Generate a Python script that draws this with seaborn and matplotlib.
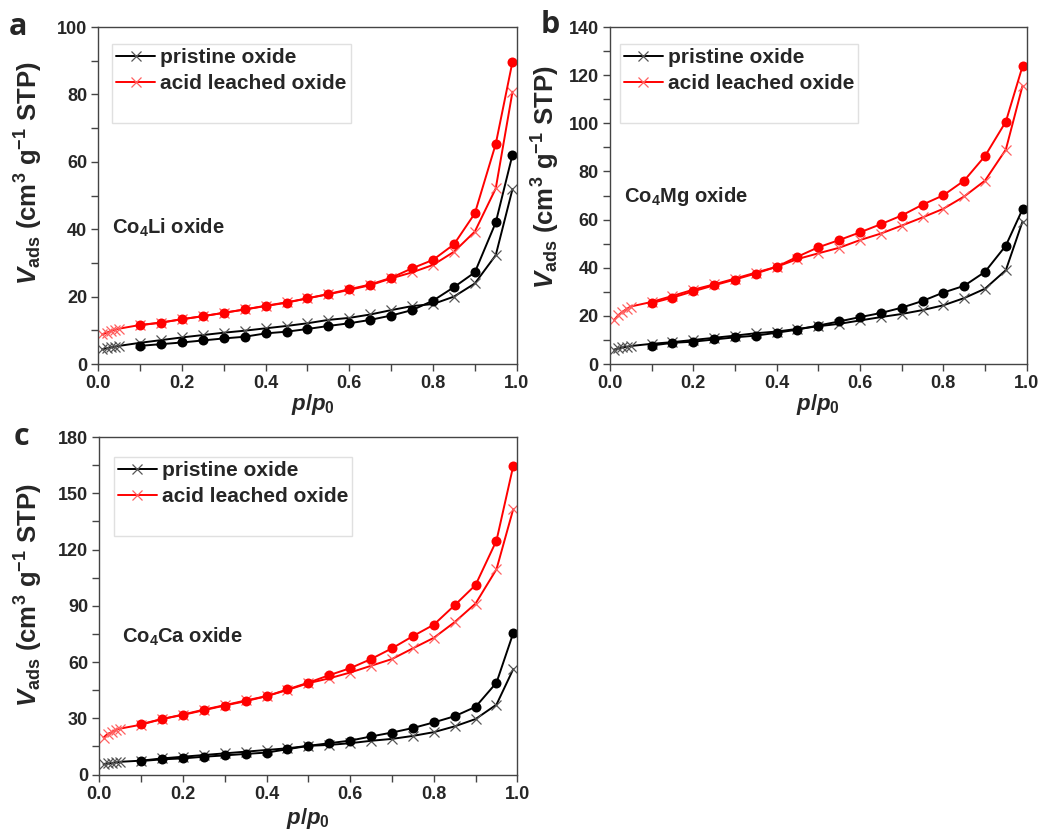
import matplotlib
matplotlib.use("Agg")
import matplotlib.pyplot as plt
from matplotlib.lines import Line2D
from matplotlib.ticker import MultipleLocator, FormatStrFormatter
import seaborn as sns

# ---------------- data ----------------
p_ads = [0.01, 0.02, 0.03, 0.04, 0.05, 0.10, 0.15, 0.20, 0.25, 0.30, 0.35, 0.40,
         0.45, 0.50, 0.55, 0.60, 0.65, 0.70, 0.75, 0.80, 0.85, 0.90, 0.95, 0.99]
p_des = [0.99, 0.95, 0.90, 0.85, 0.80, 0.75, 0.70, 0.65, 0.60, 0.55, 0.50,
         0.45, 0.40, 0.35, 0.30, 0.25, 0.20, 0.15, 0.10]

# Co4Li
li_pristine_ads = [4.4, 4.7, 5.0, 5.2, 5.4, 6.3, 7.1, 7.9, 8.6, 9.3, 9.9, 10.6,
                   11.3, 12.1, 13.1, 13.7, 14.7, 16.0, 17.2, 17.8, 20.0, 23.9, 32.3, 51.9]
li_pristine_des = [62.1, 42.0, 27.2, 22.8, 18.8, 16.0, 14.4, 13.1, 12.1, 11.3, 10.4,
                   9.6, 9.1, 8.1, 7.6, 7.0, 6.4, 5.9, 5.4]
li_acid_ads = [8.8, 9.3, 9.8, 10.2, 10.5, 11.6, 12.3, 13.3, 14.2, 15.2, 16.2, 17.3,
               18.3, 19.5, 20.7, 22.0, 23.4, 25.4, 27.2, 29.4, 33.3, 39.3, 52.1, 80.8]
li_acid_des = [89.7, 65.3, 44.7, 35.5, 30.9, 28.4, 25.6, 23.6, 22.2, 20.8, 19.5,
               18.2, 17.2, 16.2, 15.2, 14.2, 13.3, 12.3, 11.5]

# Co4Mg
mg_pristine_ads = [6.0, 6.5, 6.9, 7.2, 7.5, 8.4, 9.1, 10.0, 10.9, 11.8, 12.8, 13.5,
                   14.6, 15.7, 16.7, 18.1, 19.5, 20.8, 22.4, 24.4, 27.4, 31.3, 39.0, 59.2]
mg_pristine_des = [64.3, 49.2, 38.3, 32.5, 29.7, 26.2, 23.4, 21.2, 19.5, 17.7, 16.0,
                   14.3, 13.0, 11.8, 11.1, 10.2, 9.3, 8.8, 7.7]
mg_acid_ads = [18.3, 20.3, 21.7, 22.9, 23.9, 25.8, 28.3, 30.9, 33.1, 35.5, 38.0, 40.4,
               43.6, 46.0, 48.3, 51.5, 54.2, 57.5, 60.9, 64.5, 69.6, 76.2, 89.1, 115.6]
mg_acid_des = [123.7, 100.7, 86.4, 76.2, 70.1, 66.2, 61.7, 58.1, 54.7, 51.5, 48.5,
               44.6, 40.4, 37.6, 35.1, 32.7, 30.2, 27.6, 25.3]

# Co4Ca
ca_pristine_ads = [5.6, 5.9, 6.2, 6.5, 6.8, 7.4, 8.6, 9.5, 10.4, 11.3, 12.2, 13.1,
                   14.0, 15.3, 15.8, 16.7, 18.0, 19.0, 20.6, 22.6, 25.7, 29.6, 37.3, 56.2]
ca_pristine_des = [75.4, 49.0, 36.1, 31.1, 27.8, 24.8, 22.4, 20.3, 18.1, 16.7, 15.3,
                   13.5, 11.7, 11.0, 10.2, 9.5, 8.6, 8.1, 7.2]
ca_acid_ads = [19.7, 21.7, 22.6, 23.9, 24.5, 26.6, 29.6, 32.0, 34.6, 37.0, 39.5, 41.8,
               45.1, 48.7, 51.3, 54.4, 58.0, 61.6, 67.3, 72.9, 81.3, 91.2, 109.5, 141.5]
ca_acid_des = [164.5, 124.8, 101.1, 90.3, 79.9, 73.8, 67.3, 61.6, 56.7, 53.0, 49.0,
               45.4, 41.8, 39.1, 36.8, 34.3, 31.8, 29.6, 26.9]

series_labels = ["pristine oxide", "acid leached oxide"]
panel_letters = ["a", "b", "c"]
sample_names = ["Co$_\\mathregular{4}$Li oxide", "Co$_\\mathregular{4}$Mg oxide",
                "Co$_\\mathregular{4}$Ca oxide"]
y_limits = [100, 140, 180]
y_major = [20, 20, 30]

# ---------------- style ----------------
sns.set_theme(style="ticks")
plt.rcParams['font.family'] = ['Liberation Sans', 'DejaVu Sans']
plt.rcParams['font.weight'] = 'bold'
plt.rcParams['mathtext.fontset'] = 'custom'
plt.rcParams['mathtext.rm'] = 'Liberation Sans:bold'
plt.rcParams['mathtext.it'] = 'Liberation Sans:bold:italic'
plt.rcParams['mathtext.bf'] = 'Liberation Sans:bold'

fig = plt.figure(figsize=(10.4, 8.34), dpi=100)
positions = [
    [0.0945, 0.5635, 0.4023, 0.4041],
    [0.5865, 0.5635, 0.4007, 0.4041],
    [0.0955, 0.0713, 0.4020, 0.4047],
]
ylabel_coords = [(-0.128, 0.567), (-0.116, 0.555), (-0.130, 0.532)]
xlabel_coords = [(0.512, -0.084), (0.5, -0.084), (0.498, -0.092)]
text_pos = [(0.032, 0.404), (0.034, 0.496), (0.055, 0.408)]
legend_pos = [(0.033, 0.950), (0.024, 0.950), (0.035, 0.941)]
letter_pos = [(0.0175, 0.968), (0.529, 0.970), (0.0207, 0.476)]

panels = [
    (li_pristine_ads, li_pristine_des, li_acid_ads, li_acid_des),
    (mg_pristine_ads, mg_pristine_des, mg_acid_ads, mg_acid_des),
    (ca_pristine_ads, ca_pristine_des, ca_acid_ads, ca_acid_des),
]
colors = ["#000000", "#ff0000"]
cross_colors = ["#555555", "#ff6060"]

for i, (pa, pd_, aa, ad) in enumerate(panels):
    ax = fig.add_axes(positions[i])
    for j, (ads, des) in enumerate([(pa, pd_), (aa, ad)]):
        c = colors[j]
        sns.lineplot(x=p_ads, y=ads, sort=False, estimator=None, color=c,
                     linewidth=1.4, marker='x', markersize=7.5, markeredgewidth=0.9,
                     markeredgecolor=cross_colors[j], ax=ax, legend=False)
        sns.lineplot(x=p_des, y=des, sort=False, estimator=None, color=c,
                     linewidth=1.4, marker='o', markersize=7.2, markeredgewidth=0,
                     markeredgecolor=c, markerfacecolor=c, ax=ax, legend=False)
    ax.set_xlim(0, 1.0)
    ax.set_ylim(0, y_limits[i])
    ax.xaxis.set_major_locator(MultipleLocator(0.2))
    ax.xaxis.set_minor_locator(MultipleLocator(0.1))
    ax.yaxis.set_major_locator(MultipleLocator(y_major[i]))
    ax.yaxis.set_minor_locator(MultipleLocator(y_major[i] / 2))
    ax.xaxis.set_major_formatter(FormatStrFormatter('%.1f'))
    ax.tick_params(which='both', direction='out', length=5, width=1, color='#444444',
                   top=False, right=False)
    ax.tick_params(which='major', labelsize=13, pad=3)
    for lab in ax.get_xticklabels() + ax.get_yticklabels():
        lab.set_fontweight('bold')
    for sp in ax.spines.values():
        sp.set_color('#444444')
        sp.set_linewidth(1.0)
        sp.set_visible(True)
    ax.set_ylabel("$V_{\\mathregular{ads}}$ (cm$^{\\mathregular{3}}$ g$^{\\mathregular{-1}}$ STP)",
                  fontsize=18.5, fontweight='bold')
    ax.yaxis.set_label_coords(*ylabel_coords[i])
    ax.set_xlabel("$p$/$p_{\\mathregular{0}}$", fontsize=16, fontweight='bold')
    ax.xaxis.set_label_coords(*xlabel_coords[i])
    ax.text(text_pos[i][0], text_pos[i][1], sample_names[i], transform=ax.transAxes,
            fontsize=14.5, fontweight='bold', ha='left', va='center')
    handles = [Line2D([], [], color=colors[0], lw=1.4, marker='x', markersize=7.5,
                      mew=0.9, mec=cross_colors[0]),
               Line2D([], [], color=colors[1], lw=1.4, marker='x', markersize=7.5,
                      mew=0.9, mec=cross_colors[1]),
               Line2D([], [], color='none')]
    leg = ax.legend(handles, series_labels + [" "], loc='upper left',
                    bbox_to_anchor=legend_pos[i], borderaxespad=0, borderpad=0.2,
                    handlelength=1.85, handletextpad=0.25, labelspacing=0.33,
                    prop={'weight': 'bold', 'size': 15}, fancybox=False,
                    framealpha=1, edgecolor='#e0e0e0')
    leg.get_frame().set_linewidth(1.0)
    fig.text(letter_pos[i][0], letter_pos[i][1], panel_letters[i], fontsize=22,
             fontweight='bold', family=['Open Sans', 'DejaVu Sans'], ha='center', va='center')

fig.savefig("out.png", dpi=100)
